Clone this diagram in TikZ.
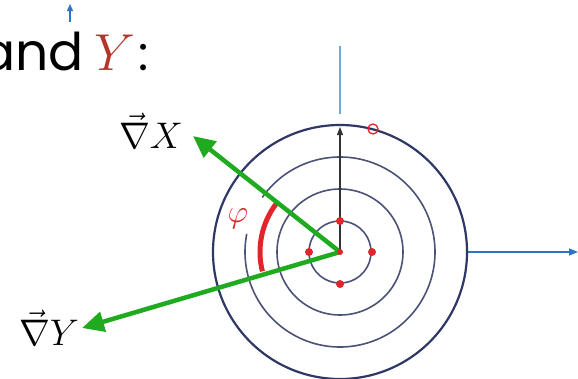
\RequirePackage{fix-cm}
\documentclass[tikz,border=0pt]{standalone}
\usepackage{fontspec}
\newfontfamily\gothic{Poppins}
\usetikzlibrary{arrows.meta}
\definecolor{navy}{HTML}{2E3766}
\definecolor{ring}{HTML}{4B5278}
\definecolor{grn}{HTML}{1FAA1F}
\definecolor{axisblue}{HTML}{2F74C0}
\definecolor{lightblue}{HTML}{6FA8DC}
\definecolor{dotred}{HTML}{E0262B}
\definecolor{yred}{HTML}{B3362A}
\tikzset{
  ringline/.style={draw=ring, line width=1.6pt},
  gradarrow/.style={draw=grn, line width=4.5pt, -{Triangle[length=22pt,width=20pt]}},
  reddot/.style={circle, fill=dotred, inner sep=0pt, minimum size=8pt},
  lbl/.style={inner sep=0pt, font=\fontsize{37}{40}\selectfont},
}
\begin{document}
\begin{tikzpicture}[x=1pt,y=-1pt]
\useasboundingbox (0,0) rectangle (578,378);
\coordinate (c) at (340,252);
% rings
\draw[ringline] (c) circle[radius=31];
\draw[ringline] (c) circle[radius=63];
\draw[ringline] (c) ++(-145:95) arc[start angle=-145, end angle=191, radius=95];
\draw[draw=navy, line width=2.2pt] (c) circle[radius=127];
% blue axes
\coordinate (vt) at (340,46);
\coordinate (vb) at (340,114);
\draw[lightblue, line width=2pt] (vb) -- (vt);
\coordinate (hs) at (468,252);
\coordinate (he) at (578,252);
\draw[axisblue, line width=1.6pt, -{Triangle[length=9pt,width=7pt]}] (hs) -- (he);
\coordinate (ts) at (70,22);
\coordinate (te) at (70,4);
\draw[axisblue, line width=1.2pt, -{Triangle[length=7pt,width=6pt]}] (ts) -- (te);
% black arrow
\coordinate (top) at (340,127);
\draw[black!80, line width=1.2pt, -{Triangle[length=8pt,width=6pt]}] (c) -- (top);
% red open circle
\node[circle, draw=dotred, line width=1.3pt, inner sep=0pt, minimum size=10pt] (oc) at (373,129) {};
% red angle arc
\draw[dotred, line width=5pt] (c) ++(-143:80) arc[start angle=-143, end angle=-194, radius=80];
\node[text=dotred, inner sep=0pt, font=\fontsize{32}{34}\selectfont] (phi) at (238,219) {$\varphi$};
% gradient arrows
\coordinate (gx) at (193,136);
\coordinate (gy) at (82,328);
\draw[gradarrow] (c) -- (gx);
\draw[gradarrow] (c) -- (gy);
% dots
\node[reddot] (d1) at (340,221) {};
\node[reddot] (d2) at (309,252) {};
\node[reddot] (d3) at (372,252) {};
\node[reddot] (d4) at (340,284) {};
\node[reddot, minimum size=6pt] (d0) at (c) {};
% labels
\node[lbl] (lx) at (151,131) {$\vec{\nabla}X$};
\node[lbl] (ly) at (49,328) {$\vec{\nabla}Y$};
% heading
\node[inner sep=0pt, anchor=base east, font=\gothic\fontsize{52}{60}\selectfont] (andt) at (84,70) {and};
\node[inner sep=0pt, anchor=base west, text=yred, font=\fontsize{52}{60}\selectfont] (yt) at (94,70) {$Y$};
\node[inner sep=0pt, anchor=base west, font=\gothic\fontsize{48}{60}\selectfont] (colon) at (138,70) {:};
\end{tikzpicture}
\end{document}
